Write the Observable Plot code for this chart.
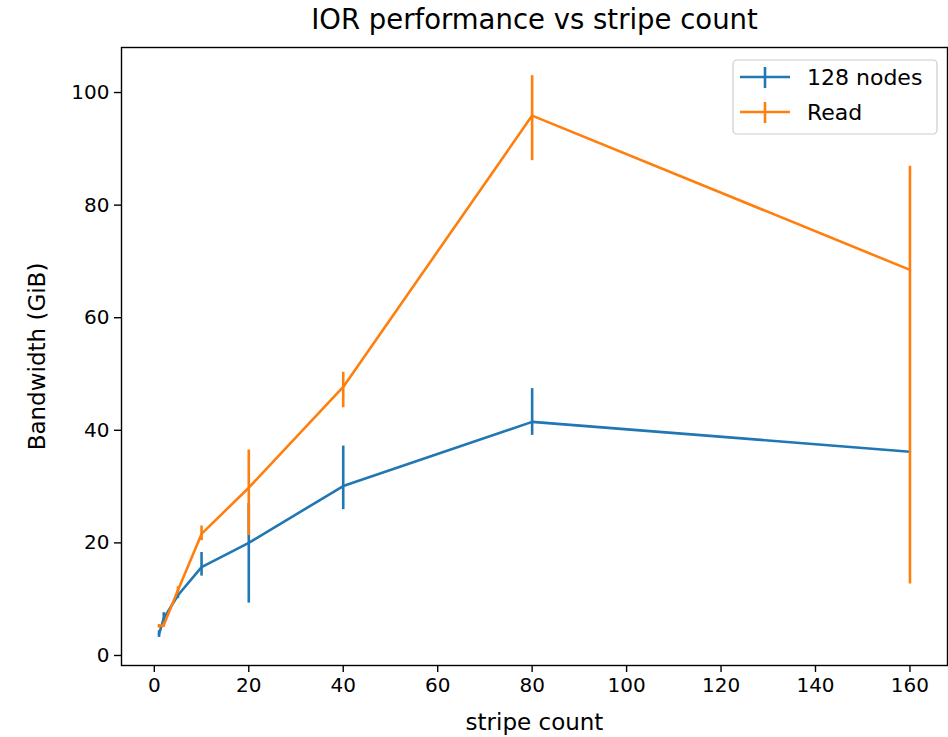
<!DOCTYPE html>
<html><head><meta charset="utf-8">
<script src="https://cdn.jsdelivr.net/npm/d3@7"></script>
<script src="https://cdn.jsdelivr.net/npm/@observablehq/plot@0.6"></script>
<style>
html,body{margin:0;padding:0;background:#fff;}
svg{font-family:"DejaVu Sans",sans-serif;}
</style>
</head><body><div id="chart"></div>
<script>
const titleText = "IOR performance vs stripe count";
const xLabel = "stripe count";
const yLabel = "Bandwidth (GiB)";
const stripeCounts = [1, 2, 5, 10, 20, 40, 80, 160];
const seriesNames = ["128 nodes", "Read"];
const seriesColors = ["#1f77b4", "#ff7f0e"];
const nodesMean = [3.8, 6.6, 10.7, 15.7, 20.0, 30.1, 41.5, 36.2];
const nodesLo   = [3.2, 5.8, 10.1, 14.1, 9.3, 25.9, 39.1, 36.2];
const nodesHi   = [4.4, 7.6, 11.3, 18.3, 27.0, 37.2, 47.4, 36.2];
const readMean  = [5.2, 5.4, 11.6, 21.6, 29.8, 47.7, 95.9, 68.5];
const readLo    = [4.9, 5.0, 11.0, 20.4, 21.3, 44.0, 87.9, 12.7];
const readHi    = [5.5, 5.8, 12.2, 23.0, 36.5, 50.3, 103.0, 86.9];
const xTicks = [0, 20, 40, 60, 80, 100, 120, 140, 160];
const yTicks = [0, 20, 40, 60, 80, 100];

const seriesData = [[nodesMean, nodesLo, nodesHi], [readMean, readLo, readHi]];
const rows = [];
seriesNames.forEach((name, s) => {
  stripeCounts.forEach((x, i) => {
    rows.push({series: name, x, y: seriesData[s][0][i], lo: seriesData[s][1][i], hi: seriesData[s][2][i]});
  });
});

const lw = 2.6;
const seriesMarks = seriesNames.flatMap(name => {
  const d = rows.filter(r => r.series === name);
  return [
    Plot.line(d, {x: "x", y: "y", stroke: "series", strokeWidth: lw}),
    Plot.ruleX(d.filter(r => r.hi > r.lo), {x: "x", y1: "lo", y2: "hi", stroke: "series", strokeWidth: lw})
  ];
});

const W = 948, H = 737, mL = 121, mR = 1, mT = 47, mB = 72;
const plot = Plot.plot({
  width: W, height: H,
  marginLeft: mL, marginRight: mR, marginTop: mT, marginBottom: mB,
  style: {fontFamily: "DejaVu Sans", fontSize: "20px", color: "#000", background: "#fff", overflow: "visible"},
  x: {domain: [-6.95, 167.95], label: null},
  y: {domain: [-1.78, 108], label: null},
  color: {domain: seriesNames, range: seriesColors},
  marks: [
    ...seriesMarks,
    Plot.frame({stroke: "#000", strokeWidth: 1.4}),
    Plot.axisX({ticks: xTicks, tickSize: 7, tickPadding: 5, tickFormat: d => String(d), label: null, fontSize: 20, strokeWidth: 1.4}),
    Plot.axisY({ticks: yTicks, tickSize: 7, tickPadding: 5, tickFormat: d => String(d), label: null, fontSize: 20, strokeWidth: 1.4}),
    Plot.text([xLabel], {frameAnchor: "bottom", dy: 57, textAnchor: "middle", lineAnchor: "middle", fontSize: 23, fill: "#000"}),
    Plot.text([yLabel], {frameAnchor: "left", dx: -84, rotate: -90, textAnchor: "middle", lineAnchor: "middle", fontSize: 23, fill: "#000"}),
    Plot.text([titleText], {frameAnchor: "top", dy: -27, textAnchor: "middle", lineAnchor: "middle", fontSize: 27.5, fill: "#000"})
  ]
});
document.getElementById("chart").appendChild(plot);

// legend
const svg = d3.select(plot);
const lg = svg.append("g").attr("class", "legend").attr("text-anchor", "start");
lg.append("rect").attr("x", 733).attr("y", 60).attr("width", 204).attr("height", 74)
  .attr("rx", 4).attr("fill", "#fff").attr("fill-opacity", 0.8).attr("stroke", "#ccc").attr("stroke-width", 1.2);
seriesNames.forEach((name, i) => {
  const cy = 77 + i * 35;
  const g = lg.append("g");
  g.append("line").attr("x1", 740).attr("x2", 790).attr("y1", cy).attr("y2", cy)
    .attr("stroke", seriesColors[i]).attr("stroke-width", lw);
  g.append("line").attr("x1", 765).attr("x2", 765).attr("y1", cy - 10).attr("y2", cy + 11)
    .attr("stroke", seriesColors[i]).attr("stroke-width", lw);
  g.append("text").attr("x", 807).attr("y", cy).attr("dy", "0.35em")
    .attr("text-anchor", "start").attr("font-size", 22).attr("fill", "#000").text(name);
});
</script>
</body></html>
